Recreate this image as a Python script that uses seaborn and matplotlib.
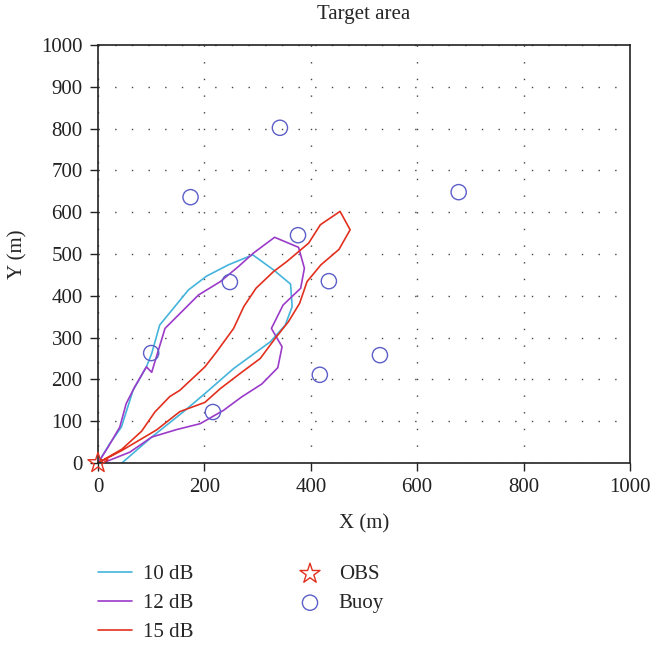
import numpy as np
import pandas as pd
import matplotlib
matplotlib.use('Agg')
import matplotlib.pyplot as plt
import seaborn as sns

# contour of each SNR level (x, y in m)
x_10db = [0, 22, 44, 66, 91, 101, 116, 170, 204, 245, 291, 330, 362, 365, 352, 324, 255, 201, 160, 101, 45]
y_10db = [0, 46, 86, 174, 230, 262, 330, 414, 447, 474, 498, 462, 428, 374, 330, 290, 226, 166, 122, 62, 0]

x_12db = [0, 19, 41, 53, 69, 91, 101, 126, 189, 230, 264, 292, 332, 377, 388, 381, 348, 326,
          346, 338, 308, 270, 236, 192, 148, 101, 60, 9]
y_12db = [0, 38, 86, 142, 182, 230, 217, 322, 402, 434, 470, 502, 540, 516, 466, 418, 378, 322,
          278, 228, 189, 158, 126, 94, 80, 62, 26, 0]

x_15db = [0, 45, 82, 107, 135, 154, 201, 223, 255, 274, 297, 330, 355, 396, 418, 455, 474, 453,
          419, 393, 379, 358, 333, 305, 267, 230, 201, 154, 110, 45, 0]
y_15db = [0, 33, 76, 122, 159, 174, 230, 266, 322, 374, 418, 458, 482, 526, 570, 602, 558, 511,
          474, 434, 382, 338, 298, 250, 214, 178, 145, 123, 79, 30, 0]

obs_x = [0]
obs_y = [0]

buoy_x = [342, 174, 678, 376, 248, 434, 100, 530, 417, 216]
buoy_y = [802, 636, 648, 545, 433, 435, 263, 258, 211, 122]

curves = [("10 dB", x_10db, y_10db, "#45b4dc"),
          ("12 dB", x_12db, y_12db, "#9b3bc9"),
          ("15 dB", x_15db, y_15db, "#e2301f")]

sns.set_style('ticks')
plt.rcParams['font.family'] = ['Liberation Serif', 'DejaVu Serif']
plt.rcParams['font.size'] = 15

fig = plt.figure(figsize=(6.51, 6.46), dpi=100)
ax = fig.add_axes([0.1505, 0.2833, 0.8172, 0.647])

for label, xs, ys, col in curves:
    df = pd.DataFrame({'x': xs, 'y': ys})
    sns.lineplot(data=df, x='x', y='y', sort=False, estimator=None, ax=ax,
                 color=col, linewidth=1.2, label=label)

sns.scatterplot(x=obs_x, y=obs_y, ax=ax, marker='*', s=230, facecolor='none',
                edgecolor='#e2301f', linewidth=1.0, label='OBS', clip_on=False, zorder=5)
sns.scatterplot(x=buoy_x, y=buoy_y, ax=ax, marker='o', s=120, facecolor='none',
                edgecolor='#5b5fc7', linewidth=1.0, label='Buoy', zorder=4)

ax.set_xlim(0, 1000)
ax.set_ylim(0, 1000)
ax.set_xticks(np.arange(0, 1001, 200))
ax.set_yticks(np.arange(0, 1001, 100))
ax.grid(True, linestyle=(0, (1, 11)), color='#444444', linewidth=1.0)
for s in ax.spines.values():
    s.set_linewidth(1.2)
    s.set_color('#222222')
ax.tick_params(direction='out', length=6, width=1.0, labelsize=15, colors='#222222', pad=5)
ax.set_xlabel('X (m)', fontsize=15, labelpad=12)
ax.set_ylabel('Y (m)', fontsize=15, labelpad=10)
ax.set_title('Target area', fontsize=15, pad=19)

handles, labels = ax.get_legend_handles_labels()
ax.get_legend().remove()
fig.legend(handles, labels, loc='upper left', bbox_to_anchor=(0.121, 0.155),
           ncol=2, frameon=False, fontsize=15, handlelength=1.65, handletextpad=0.55,
           columnspacing=4.75, labelspacing=0.45)

fig.savefig('out.png', dpi=100)
